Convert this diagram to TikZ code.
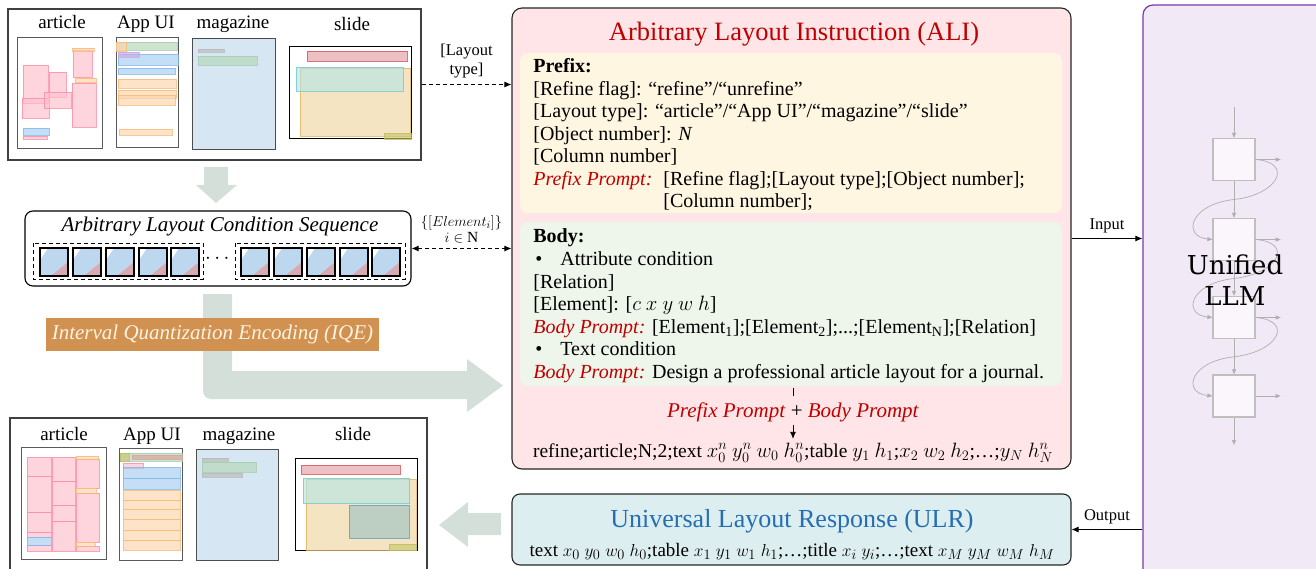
\documentclass[tikz,border=0pt]{standalone}
\usepackage{fontspec}
\setmainfont{Liberation Serif}
\newfontfamily\llmfont{DejaVu Serif}
\usepackage{amsmath}
\usetikzlibrary{arrows.meta,calc}

\definecolor{alired}{RGB}{192,0,0}
\definecolor{ulrblue}{RGB}{36,110,178}
\definecolor{alifill}{RGB}{255,229,231}
\definecolor{prefill}{RGB}{255,246,226}
\definecolor{bodyfill}{RGB}{238,245,234}
\definecolor{ulrfill}{RGB}{221,238,240}
\definecolor{llmfill}{RGB}{242,233,247}
\definecolor{llmline}{RGB}{120,60,170}
\definecolor{iqefill}{RGB}{209,145,80}
\definecolor{iqetext}{RGB}{255,243,225}
\definecolor{bigarrow}{RGB}{213,223,218}
\definecolor{magblue}{RGB}{214,230,242}
\definecolor{cellblue}{RGB}{189,215,238}
\definecolor{cellpink}{RGB}{218,170,178}
\definecolor{netgray}{RGB}{175,175,175}

\newcommand{\redit}[1]{\textcolor{alired}{\textit{#1}}}

\begin{document}
\begin{tikzpicture}[x=1pt,y=-1pt,line width=.8pt,
  panel/.style={draw=black!75,line width=1.1pt,inner sep=0pt},
  page/.style={draw=black!65,line width=1pt,fill=white,inner sep=0pt},
  lbl/.style={font=\fontsize{19}{21}\selectfont,anchor=base},
  txt/.style={font=\fontsize{20}{22.5}\selectfont,anchor=base west,inner sep=0pt},
  mk/.style 2 args={fill={rgb,255:#1},draw={rgb,255:#2},fill opacity=.65,draw opacity=.8,line width=.6pt},
  pk/.style={mk={red,255;green,192;blue,203}{red,250;green,140;blue,165}},
  og/.style={mk={red,253;green,212;blue,170}{red,250;green,185;blue,120}},
  bl/.style={mk={red,165;green,205;blue,242}{red,130;green,185;blue,235}},
  gn/.style={mk={red,180;green,215;blue,185}{red,165;green,205;blue,175}},
  gy/.style={mk={red,185;green,185;blue,185}{red,185;green,185;blue,185}},
  rd/.style={mk={red,228;green,160;blue,165}{red,215;green,80;blue,90}},
  yl/.style={mk={red,240;green,215;blue,160}{red,225;green,180;blue,90}},
  cy/.style={mk={red,185;green,230;blue,230}{red,110;green,205;blue,205}},
  ol/.style={mk={red,200;green,200;blue,110}{red,190;green,190;blue,100}},
  tl/.style={mk={red,160;green,195;blue,195}{red,90;green,160;blue,200}},
  tip/.style={-{Latex[length=7pt,width=6pt]}},
  dashy/.style={dash pattern=on 4pt off 3pt,line width=.9pt},
  net/.style={netgray,line width=.7pt,-{Triangle[length=5pt,width=4pt]}},
  bigarr/.style={fill=bigarrow}]

  \useasboundingbox (0,0) rectangle (1316,569);

  % ---------- input layouts ----------
  \node[panel,minimum width=413,minimum height=151] (toppanel) at (214.5,84.5) {};
  \node[page,minimum width=85,minimum height=111] (art) at (59.5,93.5) {};
  \node[page,minimum width=62,minimum height=110] (app) at (147,93) {};
  \node[page,fill=magblue,draw=black!70,minimum width=83,minimum height=111] (mag) at (233.5,94.5) {};
  \node[page,draw=black,minimum width=122,minimum height=92] (sld) at (350,93) {};
  \node[lbl] (artlbl) at (62,29) {article};
  \node[lbl] (applbl) at (146,29) {App UI};
  \node[lbl] (maglbl) at (233,29) {magazine};
  \node[lbl] (sldlbl) at (352,31) {slide};

  \foreach \a/\b/\c/\d in {23/65/48/103,49/72/66/97,22/98/49/118,44/92/71/108,72/83/96/127,73/50/92/77,23/136/47/139}
    \draw[pk] (\a,\b) rectangle (\c,\d);
  \foreach \a/\b/\c/\d in {72/48/94/51,75/78/96/82,118/79/176/88,118/90/176/98,118/95/175/105,119/129/172/135}
    \draw[og] (\a,\b) rectangle (\c,\d);
  \foreach \a/\b/\c/\d in {23/128/49/135,118/54/178/65,118/68/175/74}
    \draw[bl] (\a,\b) rectangle (\c,\d);
  \draw[gn] (116,42) rectangle (177,50);
  \draw[og] (116,42) rectangle (126,51);
  \draw[mk={red,200;green,170;blue,225}{red,200;green,170;blue,225}] (118,52) rectangle (139,57);
  \draw[gy] (198,49) rectangle (224,52);
  \draw[gn] (198,56) rectangle (257,65);
  \draw[rd] (307,51) rectangle (407,61);
  \draw[yl] (300,68) rectangle (410,136);
  \draw[cy] (296,67) rectangle (403,91);
  \draw[ol] (384,133) rectangle (411,139);

  % ---------- output layouts ----------
  \node[panel,minimum width=417,minimum height=162] (botpanel) at (218.5,499) {};
  \node[page,minimum width=85,minimum height=112] (art2) at (63.5,503) {};
  \node[page,minimum width=63,minimum height=112] (app2) at (150.5,504) {};
  \node[page,fill=magblue,draw=black!70,minimum width=82,minimum height=111] (mag2) at (237,504.5) {};
  \node[page,draw=black,minimum width=122,minimum height=92] (sld2) at (356,504) {};
  \node[lbl] (artlbl2) at (64,440) {article};
  \node[lbl] (applbl2) at (152,440) {App UI};
  \node[lbl] (maglbl2) at (239,440) {magazine};
  \node[lbl] (sldlbl2) at (353,440) {slide};

  \foreach \a/\b/\c/\d in {27/457/51/476,27/476/51/512,27/512/51/532,27/532/51/537,27/545/51/551,
      52/457/75/481,52/481/75/505,52/505/75/521,52/521/75/551,76/459/99/488,76/493/99/542,76/546/99/551,123/463/143/468}
    \draw[pk] (\a,\b) rectangle (\c,\d);
  \foreach \a/\b/\c/\d in {76/456/98/459,76/488/96/493,76/542/95/546,
      123/490/180/500,123/500/180/509,123/509/180/519,123/519/180/530,123/530/180/540,123/540/180/550}
    \draw[og] (\a,\b) rectangle (\c,\d);
  \foreach \a/\b/\c/\d in {27/537/51/545,123/467/180/478,123/478/180/489}
    \draw[bl] (\a,\b) rectangle (\c,\d);
  \draw[gn] (120,453) rectangle (182,461);
  \draw[ol] (120,453) rectangle (129,461);
  \draw[mk={red,215;green,165;blue,155}{red,215;green,165;blue,155}] (132,455) rectangle (182,459);
  \draw[gy] (202,458) rectangle (228,462);
  \draw[gn] (202,462) rectangle (256,472);
  \draw[gy] (202,473) rectangle (242,477);
  \draw[rd] (301,465) rectangle (400,474);
  \draw[yl] (306,479) rectangle (416,550);
  \draw[cy] (303,478) rectangle (409,503);
  \draw[tl] (349,505) rectangle (409,538);
  \draw[ol] (389,544) rectangle (416,550);

  % ---------- condition sequence ----------
  \fill[bigarr] (204,167) -- (228,167) -- (228,185) -- (237,185) -- (216,203) -- (196,185) -- (204,185) -- cycle;
  \fill[bigarr] (203,294) -- (232,294) -- (232,371) -- (467,371) -- (467,359) -- (503,385.5) -- (467,412) -- (467,399)
    [rounded corners=8pt] -- (203,399) [sharp corners] -- cycle;
  \fill[bigarr] (501,513) -- (468,513) -- (468,502) -- (439,525) -- (468,547) -- (468,535) -- (501,535) -- cycle;

  \node[draw=black,line width=1.1pt,rounded corners=8pt,fill=white,minimum width=386,minimum height=75] (seq) at (218,248.5) {};
  \node[font=\fontsize{21}{23}\selectfont\itshape,anchor=base] (seqtitle) at (220,232) {Arbitrary Layout Condition Sequence};
  \draw[dashy] (33,243) rectangle (203,279);
  \draw[dashy] (235,243) rectangle (405,279);
  \node[font=\fontsize{20}{22}\selectfont] (dots) at (219,259) {$\cdots$};
  \foreach \x in {40,73,106,139,171,241,274,307,340,372} {
    \fill[cellblue] (\x,248) rectangle ++(28,28);
    \fill[white] (\x,248) -- ++(8,0) -- ++(-8,12) -- cycle;
    \fill[cellpink] (\x+11,276) -- (\x+28,262) -- (\x+28,276) -- cycle;
    \draw[line width=1.2pt] (\x,248) rectangle ++(28,28);
  }
  \node[fill=iqefill,text=iqetext,font=\fontsize{21}{23}\selectfont\itshape,minimum width=333,minimum height=33,inner sep=0pt] (iqe) at (212.5,334.5) {Interval Quantization Encoding (IQE)};

  % ---------- ALI ----------
  \node[draw=black!85,line width=1.1pt,rounded corners=10pt,fill=alifill,minimum width=559,minimum height=461] (ali) at (791.5,238.5) {};
  \node[fill=prefill,rounded corners=8pt,minimum width=542,minimum height=160] (prefix) at (791,133) {};
  \node[fill=bodyfill,rounded corners=8pt,minimum width=542,minimum height=164] (body) at (791,304) {};
  \node[font=\fontsize{26.5}{28}\selectfont,text=alired,anchor=base] (alititle) at (794,41) {Arbitrary Layout Instruction (ALI)};

  \node[txt] (p0) at (533,73) {\textbf{Prefix:}};
  \node[txt] (p1) at (533,95.5) {[Refine flag]: “refine”/“unrefine”};
  \node[txt] (p2) at (533,118) {[Layout type]: “article”/“App UI”/“magazine”/“slide”};
  \node[txt] (p3) at (533,140.5) {[Object number]: \textit{N}};
  \node[txt] (p4) at (533,163) {[Column number]};
  \node[txt] (p5) at (533,185.5) {\redit{Prefix Prompt:}};
  \node[txt] (p6) at (663,185.5) {[Refine flag];[Layout type];[Object number];};
  \node[txt] (p7) at (663,208) {[Column number];};

  \node[txt] (b0) at (533,243) {\textbf{Body:}};
  \node[txt] (b1) at (535,265.5) {\textbullet\hspace{18pt}Attribute condition};
  \node[txt] (b2) at (533,288) {[Relation]};
  \node[txt] (b3) at (533,310.5) {[Element]: [$c\ x\ y\ w\ h$]};
  \node[txt] (b4) at (533,333) {\redit{Body Prompt:} [Element\textsubscript{1}];[Element\textsubscript{2}];...;[Element\textsubscript{N}];[Relation]};
  \node[txt] (b5) at (535,355.5) {\textbullet\hspace{18pt}Text condition};
  \node[txt] (b6) at (533,378) {\redit{Body Prompt:} Design a professional article layout for a journal.};

  \node[font=\fontsize{21}{23}\selectfont,anchor=base] (both) at (793,417) {\redit{Prefix Prompt} + \redit{Body Prompt}};
  \node[font=\fontsize{19.5}{21}\selectfont,anchor=base] (seqstr) at (793,457)
    {refine;article;N;2;text $x_0^n\ y_0^n\ w_0\ h_0^n$;table $y_1\ h_1$;$x_2\ w_2\ h_2$;\ldots;$y_N\ h_N^n$};
  \draw (both.north) ++(0,-2) -- ++(0,-8);
  \draw[tip] (both.south) -- (seqstr.north);

  % ---------- ULR ----------
  \node[draw=black!85,line width=1.1pt,rounded corners=8pt,fill=ulrfill,minimum width=559,minimum height=71] (ulr) at (791.5,529.5) {};
  \node[font=\fontsize{26}{28}\selectfont,text=ulrblue,anchor=base] (ulrtitle) at (792,527) {Universal Layout Response (ULR)};
  \node[font=\fontsize{19}{21}\selectfont,anchor=base] (ulrstr) at (792,556)
    {text $x_0\ y_0\ w_0\ h_0$;table $x_1\ y_1\ w_1\ h_1$;\ldots;title $x_i\ y_i$;\ldots;text $x_M\ y_M\ w_M\ h_M$};

  % ---------- LLM ----------
  \node[draw=llmline,line width=1.2pt,rounded corners=10pt,fill=llmfill,minimum width=193,minimum height=585] (llm) at (1239.5,297.5) {};
  \foreach \i/\y in {1/159.5,2/239.5,3/317.5,4/396}
    \node[draw=netgray!80,line width=1.3pt,fill=white!60!llmfill,minimum size=42,inner sep=0pt] (l\i) at (1234,\y) {};
  \coordinate (ntop) at (1234,107);
  \coordinate (nbot) at (1234,445);
  \draw[net] (ntop) -- (l1.north);
  \draw[net] (l4.south) -- (nbot);
  \foreach \i/\j in {1/2,2/3,3/4} {
    \draw[net] (l\i.south) -- (l\j.north);
    \draw[net] (l\i.east) .. controls +(38,3) and +(45,-5) .. ($(l\i.south)!.5!(l\j.north)$)
      .. controls +(-45,5) and +(-30,-3) .. (l\j.west);
  }
  \foreach \i in {1,2,3,4}
    \draw[net] (l\i.east) -- ++(25,0);
  \node[font=\llmfont\fontsize{26}{31}\selectfont,align=center] (llmtext) at (1235,280) {Unified\\LLM};

  % ---------- connectors ----------
  \draw[dashy,tip] (toppanel.east) -- (toppanel.east -| ali.west)
    node[midway,above=3pt,align=center,font=\fontsize{16.5}{19}\selectfont] (ltype) {[Layout\\type]};
  \draw[dashy,{Latex[length=7pt,width=6pt]}-{Latex[length=7pt,width=6pt]}] (seq.east) -- (seq.east -| ali.west)
    node[midway,above=2pt,align=center,font=\fontsize{15.5}{16}\selectfont] (elem) {$\{[Element_i]\}$\\$i\in\mathrm{N}$};
  \draw[tip] (ali.east) -- (ali.east -| llm.west)
    node[midway,above=2pt,font=\fontsize{16.5}{18}\selectfont] (inlbl) {Input};
  \draw[tip] (ulr.east -| llm.west) -- (ulr.east)
    node[midway,above=2pt,font=\fontsize{16.5}{18}\selectfont] (outlbl) {Output};
\end{tikzpicture}
\end{document}
